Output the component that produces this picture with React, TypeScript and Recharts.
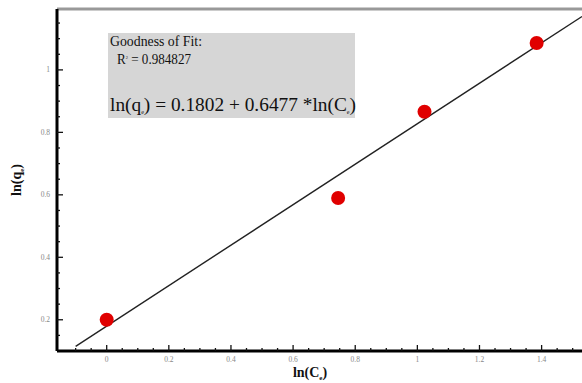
import React from 'react';
import { ScatterChart, Scatter, XAxis, YAxis, ReferenceLine, Customized } from 'recharts';

// measured points: ln(Ce) vs ln(qe)
const lnCe = [0, 0.745, 1.023, 1.384];
const lnQe = [0.2, 0.59, 0.866, 1.086];

// ends of the fitted line as drawn
const fitX = [-0.1, 1.53];
const fitY = [0.115, 1.171];

const xTicks = [-0.15, -0.1, -0.05, 0, 0.05, 0.1, 0.15, 0.2, 0.25, 0.3, 0.35, 0.4, 0.45, 0.5, 0.55, 0.6, 0.65, 0.7, 0.75, 0.8, 0.85, 0.9, 0.95, 1, 1.05, 1.1, 1.15, 1.2, 1.25, 1.3, 1.35, 1.4, 1.45, 1.5];
const yTicks = [0.15, 0.2, 0.25, 0.3, 0.35, 0.4, 0.45, 0.5, 0.55, 0.6, 0.65, 0.7, 0.75, 0.8, 0.85, 0.9, 0.95, 1, 1.05, 1.1, 1.15];
const xLabels = ['0', '0.2', '0.4', '0.6', '0.8', '1', '1.2', '1.4'];
const yLabels = ['0.2', '0.4', '0.6', '0.8', '1'];

const points = lnCe.map((x, i) => ({ x, y: lnQe[i] }));
const fit = fitX.map((x, i) => ({ x, y: fitY[i] }));

const isMajor = (v: number) => Math.abs(v * 5 - Math.round(v * 5)) < 1e-6;
const fmt = (v: number) => String(Math.round(v * 10) / 10);

const XTick = (props: any) => {
  const { x, y, payload } = props;
  const v = payload.value;
  const major = isMajor(v);
  if (v < -0.14) return <g />;
  return (
    <g>
      <line x1={x} x2={x} y1={y} y2={y - (major ? 6 : 3)} stroke="#111" strokeWidth={1.3} />
      {major && xLabels.includes(fmt(v)) && (
        <text x={x} y={y + 11} textAnchor="middle" fontSize={7.5} fill="#888" fontFamily="Liberation Serif">{fmt(v)}</text>
      )}
    </g>
  );
};

const YTick = (props: any) => {
  const { x, y, payload } = props;
  const v = payload.value;
  const major = isMajor(v);
  return (
    <g>
      <line x1={x} x2={x + (major ? 6 : 3)} y1={y} y2={y} stroke="#111" strokeWidth={1.3} />
      {major && yLabels.includes(fmt(v)) && (
        <text x={x - 7} y={y + 2.5} textAnchor="end" fontSize={7.5} fill="#888" fontFamily="Liberation Serif">{fmt(v)}</text>
      )}
    </g>
  );
};

const FitBox = () => (
  <g fontFamily="Liberation Serif" fill="#111" fontSize={15}>
    <rect x={108} y={33} width={247} height={85} fill="#d6d6d6" />
    <text x={110} y={46} textLength={92} lengthAdjust="spacingAndGlyphs">Goodness of Fit:</text>
    <text x={117} y={64} textLength={74} lengthAdjust="spacingAndGlyphs">
      R<tspan fontSize={5} dy={-5}>2</tspan><tspan dy={5}> = 0.984827</tspan>
    </text>
    <text x={110} y={111} fontSize={19} textLength={246} lengthAdjust="spacingAndGlyphs">
      ln(q<tspan fontSize={6} dy={3}>e</tspan><tspan dy={-3}>) = 0.1802 + 0.6477 *ln(C</tspan><tspan fontSize={6} dy={3}>e</tspan><tspan dy={-3}>)</tspan>
    </text>
  </g>
);

const AxisTitles = () => (
  <g fontFamily="Liberation Serif" fill="#111" fontSize={14} fontWeight="bold">
    <text x={310} y={377} textAnchor="middle">
      ln(C<tspan fontSize={7} dy={3}>e</tspan><tspan dy={-3}>)</tspan>
    </text>
    <text x={21} y={180} textAnchor="middle" transform="rotate(-90 21 180)">
      ln(q<tspan fontSize={7} dy={3}>e</tspan><tspan dy={-3}>)</tspan>
    </text>
  </g>
);

export default function App() {
  return (
    <div style={{ position: 'absolute', left: 0, top: 0, width: 582, height: 383, background: '#fff' }}>
      <ScatterChart width={582} height={383} margin={{ top: 9, right: 0, bottom: 0, left: 0 }}>
        <XAxis
          type="number"
          dataKey="x"
          domain={[-0.16, 1.53]}
          allowDataOverflow
          ticks={xTicks}
          interval={0}
          height={32}
          tickSize={0}
          tickMargin={0}
          tickLine={false}
          tick={<XTick />}
          axisLine={{ stroke: '#000', strokeWidth: 3 }}
        />
        <YAxis
          type="number"
          dataKey="y"
          domain={[0.1, 1.195]}
          allowDataOverflow
          ticks={yTicks}
          interval={0}
          width={57}
          tickSize={0}
          tickMargin={0}
          tickLine={false}
          tick={<YTick />}
          axisLine={{ stroke: '#000', strokeWidth: 3 }}
        />
        <ReferenceLine y={1.195} stroke="#999" strokeWidth={3} />
        <Customized component={FitBox} />
        <Scatter
          data={fit}
          line={{ stroke: '#222', strokeWidth: 1.4 }}
          lineType="joint"
          shape={() => <g />}
          isAnimationActive={false}
        />
        <Scatter
          data={points}
          fill="#e00000"
          shape={(p: any) => <circle cx={p.cx} cy={p.cy} r={7} fill="#e00000" />}
          isAnimationActive={false}
        />
        <Customized component={AxisTitles} />
      </ScatterChart>
    </div>
  );
}
